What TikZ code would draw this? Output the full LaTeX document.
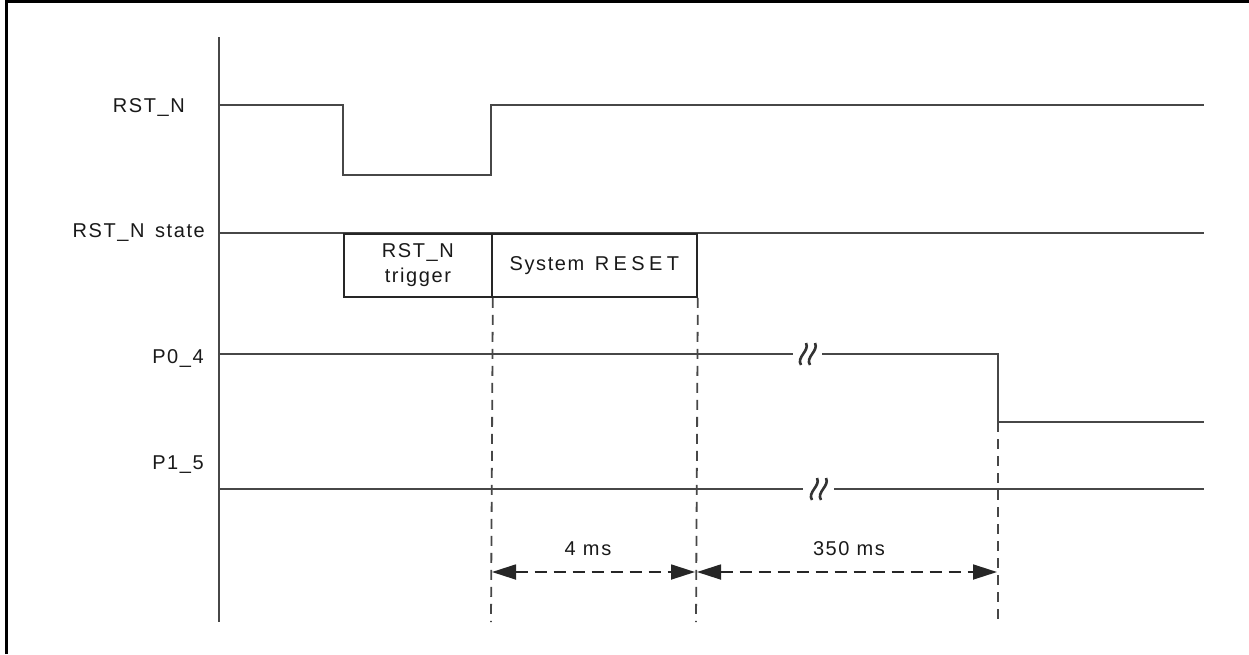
\documentclass[tikz,border=0pt]{standalone}
\usepackage{fontspec}
\setmainfont{Liberation Sans}[LetterSpace=8]
\usetikzlibrary{arrows.meta}
\tikzset{
  sig/.style={line width=1.8pt, draw=black!72},
  frameline/.style={line width=3pt, draw=black},
  guide/.style={line width=1.8pt, draw=black!72, dash pattern=on 10pt off 7pt},
  dimline/.style={line width=1.8pt, draw=black!85, dash pattern=on 12pt off 7pt,
    {Triangle[length=24pt,width=15pt]}-{Triangle[length=24pt,width=15pt]}, shorten <=1pt, shorten >=1pt},
  lbl/.style={font=\fontsize{20}{24}\selectfont, text=black!90, inner sep=0pt},
  statebox/.style={draw=black!85, line width=1.8pt, minimum height=63pt, inner sep=0pt,
    font=\fontsize{20}{25}\selectfont, text=black!90, align=center},
  brk/.pic={
    \draw[line width=2.6pt, black!80] (-8,11) .. controls (-13,3) and (1,-3) .. (-3,-11);
    \draw[line width=2.6pt, black!80] (1,11) .. controls (-4,3) and (10,-3) .. (6,-11);
  }
}
\begin{document}
\begin{tikzpicture}[x=1pt,y=-1pt]
\useasboundingbox (0,0) rectangle (1249,654);
% frame
\coordinate (fTL) at (6,1.5);
\coordinate (fTR) at (1249,1.5);
\coordinate (fBL) at (6,654);
\draw[frameline] (fBL) -- (fTL) -- (fTR);

% axis
\coordinate (axT) at (219,37);
\coordinate (axB) at (219,622);
\draw[sig] (axT) -- (axB);

% labels
\node[lbl, anchor=east] (lRST) at (185,108) {RST\_N};
\node[lbl, anchor=east] (lSTATE) at (205,232) {RST\_N\, state};
\node[lbl, anchor=east] (lP04) at (204,358) {P0\_4};
\node[lbl, anchor=east] (lP15) at (204,465) {P1\_5};

% RST_N waveform
\coordinate (r0) at (219,105);
\coordinate (r1) at (343,105);
\coordinate (r2) at (343,175);
\coordinate (r3) at (491,175);
\coordinate (r4) at (491,105);
\coordinate (r5) at (1204,105);
\draw[sig] (r0) -- (r1) -- (r2) -- (r3) -- (r4) -- (r5);

% RST_N state
\coordinate (s0) at (219,233);
\coordinate (s1) at (1204,233);
\draw[sig] (s0) -- (s1);
\node[statebox, minimum width=148pt, anchor=north west] (trig) at (343,233) {RST\_N\\trigger};
\node[statebox, minimum width=205pt, anchor=north west] (sysr) at (491,233) {System\, {\addfontfeature{LetterSpace=22}RESET}};

% P0_4
\coordinate (p0a) at (219,354);
\coordinate (p0b) at (793,354);
\coordinate (p0c) at (822,354);
\coordinate (p0d) at (998,354);
\coordinate (p0e) at (998,422);
\coordinate (p0f) at (1204,422);
\draw[sig] (p0a) -- (p0b);
\draw[sig] (p0c) -- (p0d) -- (p0e) -- (p0f);
\pic at (809,354) {brk};

% P1_5
\coordinate (p1a) at (219,489);
\coordinate (p1b) at (803,489);
\coordinate (p1c) at (834,489);
\coordinate (p1d) at (1204,489);
\draw[sig] (p1a) -- (p1b);
\draw[sig] (p1c) -- (p1d);
\pic at (820,489) {brk};

% guides
\coordinate (g1b) at (491,622);
\coordinate (g2b) at (696,622);
\coordinate (g3t) at (998,422);
\coordinate (g3b) at (998,622);
\draw[guide] (trig.south east) -- (g1b);
\draw[guide] (sysr.south east) -- (g2b);
\draw[guide] (g3t) -- (g3b);

% dimensions
\coordinate (d1) at (491,572);
\coordinate (d2) at (696,572);
\coordinate (d3) at (998,572);
\draw[dimline] (d1) -- (d2);
\draw[dimline] (d2) -- (d3);
\node[lbl] (t4) at (588,549) {4 ms};
\node[lbl] (t350) at (849,549) {350 ms};
\end{tikzpicture}
\end{document}
